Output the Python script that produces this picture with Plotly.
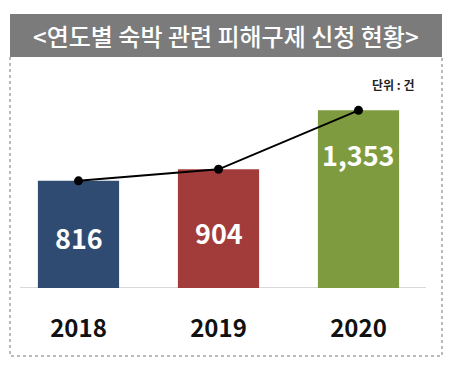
import plotly.graph_objects as go

years = ["2018", "2019", "2020"]
values = [816, 904, 1353]
value_labels = ["816", "904", "1,353"]
bar_colors = ["#2F4B72", "#A23C3B", "#7E9C3F"]
title_text = "&lt;연도별 숙박 관련 피해구제 신청 현황&gt;"
unit_text = "단위 : 건"

W, H = 452, 373
FONT = "Noto Sans CJK KR"

# label vertical placement as fraction of bar height (styling)
label_frac = [0.47, 0.465, 0.75]

fig = go.Figure()
fig.add_trace(go.Bar(
    x=years, y=values, width=0.58,
    marker=dict(color=bar_colors, line=dict(width=0)),
    hoverinfo="skip", showlegend=False,
))
fig.add_trace(go.Scatter(
    x=years, y=values, mode="lines+markers",
    line=dict(color="#000000", width=2),
    marker=dict(color="#000000", size=9),
    hoverinfo="skip", showlegend=False,
))

for i, (v, lab, f) in enumerate(zip(values, value_labels, label_frac)):
    fig.add_annotation(x=i, y=v * f, xref="x", yref="y", text=lab,
                       showarrow=False, xanchor="center", yanchor="middle",
                       font=dict(family=FONT, size=27, color="white", weight="bold"))

# title box
fig.add_shape(type="rect", xref="paper", yref="paper",
              x0=10 / W, x1=442 / W, y0=1 - 57 / H, y1=1 - 14 / H,
              fillcolor="#7B7B7B", line=dict(width=0), layer="below")
fig.add_annotation(x=226 / W, y=1 - 35.5 / H, xref="paper", yref="paper",
                   xanchor="center", yanchor="middle",
                   text=title_text, showarrow=False,
                   font=dict(family=FONT, size=24, color="white", weight=500))
# dotted frame
fig.add_shape(type="path", xref="paper", yref="paper",
              path=f"M {10/W} {1-57/H} L {10/W} {1-356/H} L {442/W} {1-356/H} L {442/W} {1-57/H}",
              line=dict(color="#777777", width=1, dash="dot"))
# baseline
fig.add_shape(type="line", xref="paper", yref="y",
              x0=20 / W, x1=426 / W, y0=0, y1=0,
              line=dict(color="#D9D9D9", width=2), layer="below")
# unit
fig.add_annotation(x=416 / W, y=1 - 84 / H, xref="paper", yref="paper",
                   xanchor="right", yanchor="middle", text=unit_text, showarrow=False,
                   font=dict(family=FONT, size=12, color="#222222", weight="bold"))

fig.update_layout(
    width=W, height=H,
    margin=dict(l=0, r=0, t=0, b=0),
    paper_bgcolor="white", plot_bgcolor="rgba(0,0,0,0)",
    xaxis=dict(type="category", domain=[8.5 / W, 428.5 / W], range=[-0.5, 2.5],
               showgrid=False, zeroline=False, showline=False, ticks="",
               tickfont=dict(family=FONT, size=24, color="#111111", weight="bold"),
               ticklabelstandoff=24),
    yaxis=dict(domain=[85 / H, 313 / H], range=[0, 228 / 0.1313],
               visible=False),
)

fig.write_html("out.html", config={"displayModeBar": False},
               post_script="document.body.style.margin='0';")
